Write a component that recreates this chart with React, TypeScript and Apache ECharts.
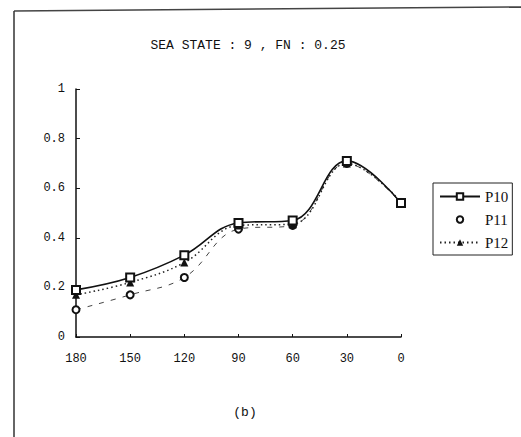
import React, { useEffect, useRef } from "react";
import * as echarts from "echarts";

const headings = [180, 150, 120, 90, 60, 30, 0];
const p10 = [0.19, 0.24, 0.33, 0.46, 0.47, 0.71, 0.54];
const p11 = [0.11, 0.17, 0.24, 0.435, 0.45, 0.7, 0.54];
const p12 = [0.17, 0.22, 0.3, 0.45, 0.455, 0.7, 0.545];
const yTicks = [0, 0.2, 0.4, 0.6, 0.8, 1];
const titleText = "SEA STATE : 9 , FN : 0.25";
const captionText = "(b)";

const pairs = (vals: number[]) => headings.map((h, i) => [h, vals[i]]);

export default function App() {
  const ref = useRef<HTMLDivElement>(null);
  useEffect(() => {
    if (!ref.current) return;
    const chart = echarts.init(ref.current, null, { renderer: "svg" });
    const mono = "Liberation Mono";
    chart.setOption({
      animation: false,
      backgroundColor: "#ffffff",
      title: {
        text: titleText,
        left: 243,
        top: 34,
        textAlign: "center",
        textStyle: { fontFamily: mono, fontSize: 13, fontWeight: "normal", color: "#111" },
      },
      grid: { left: 76, right: 120, top: 89, bottom: 100 },
      xAxis: {
        type: "value",
        min: 0,
        max: 180,
        interval: 30,
        inverse: true,
        splitLine: { show: false },
        axisLine: { onZero: false, lineStyle: { color: "#111", width: 1.5 } },
        axisTick: { inside: true, length: 3, lineStyle: { color: "#111" } },
        axisLabel: { margin: 16, fontFamily: mono, fontSize: 12, color: "#111" },
      },
      yAxis: {
        type: "value",
        position: "left",
        min: 0,
        max: 1,
        interval: 0.2,
        splitLine: { show: false },
        axisLine: { show: true, onZero: false, lineStyle: { color: "#111", width: 1.5 } },
        axisTick: { show: true, inside: true, length: 4, lineStyle: { color: "#111" } },
        axisLabel: {
          margin: 11,
          fontFamily: mono,
          fontSize: 12,
          color: "#111",
          formatter: (v: number) => (yTicks.includes(v) ? (v === 0 || v === 1 ? String(v) : v.toFixed(1)) : ""),
        },
      },
      legend: {
        orient: "vertical",
        left: 433,
        top: 183,
        padding: [6, 4, 5, 6],
        itemWidth: 40,
        itemHeight: 8,
        itemGap: 8,
        borderColor: "#222",
        borderWidth: 1,
        textStyle: { fontFamily: "Liberation Serif", fontSize: 15, lineHeight: 14, color: "#111" },
        data: [
          { name: "P10" },
          { name: "P11", lineStyle: { opacity: 0 } },
          { name: "P12" },
        ],
      },
      series: [
        {
          name: "P11",
          type: "line",
          smooth: 0.4,
          data: pairs(p11),
          symbol: "emptyCircle",
          symbolSize: 7,
          itemStyle: { color: "#111", borderWidth: 1.5 },
          lineStyle: { color: "#444", width: 1, type: [5, 7] },
        },
        {
          name: "P12",
          type: "line",
          smooth: 0.4,
          data: pairs(p12),
          symbol: "triangle",
          symbolSize: 8,
          itemStyle: { color: "#111" },
          lineStyle: { color: "#222", width: 1.5, type: [1.5, 3] },
        },
        {
          name: "P10",
          type: "line",
          smooth: 0.4,
          data: pairs(p10),
          symbol: "emptyRect",
          symbolSize: 8,
          itemStyle: { color: "#111", borderWidth: 1.5 },
          lineStyle: { color: "#111", width: 1.6 },
        },
      ],
      graphic: [
        { type: "line", shape: { x1: 14, y1: 11, x2: 521, y2: 7 }, style: { stroke: "#444", lineWidth: 1.5 } },
        { type: "line", shape: { x1: 14, y1: 11, x2: 14, y2: 437 }, style: { stroke: "#333", lineWidth: 1.5 } },
        {
          type: "text",
          x: 245,
          y: 412,
          style: {
            text: captionText,
            fontFamily: mono,
            fontSize: 13,
            fill: "#111",
            align: "center",
            verticalAlign: "middle",
          },
        },
      ],
    });
    return () => chart.dispose();
  }, []);
  return (
    <div
      ref={ref}
      style={{ position: "fixed", left: 0, top: 0, width: 521, height: 437, background: "#fff" }}
    />
  );
}
